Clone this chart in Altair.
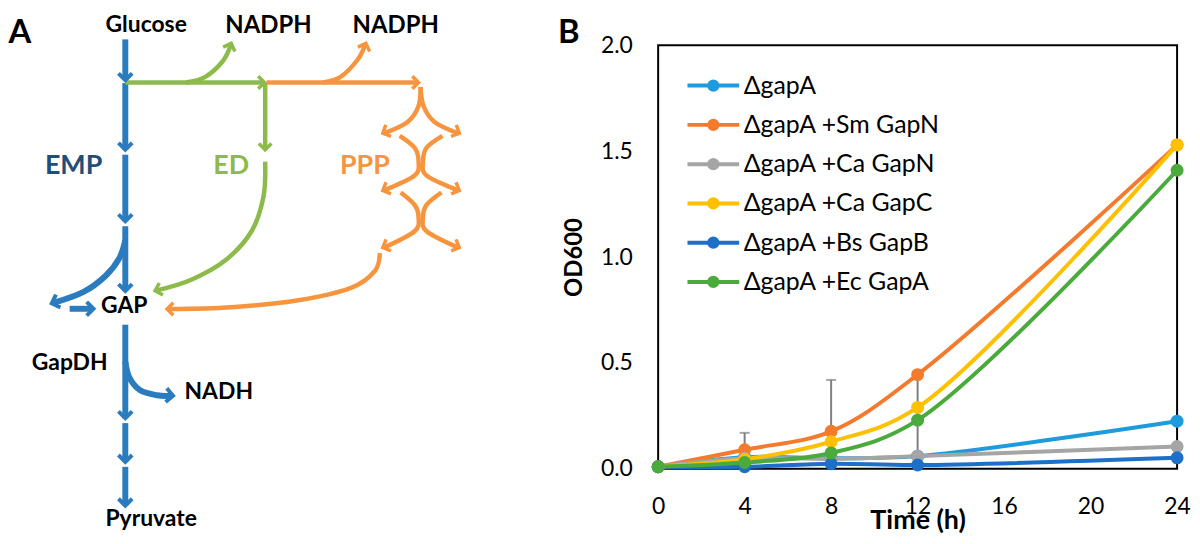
import altair as alt
import pandas as pd

FONT = "Lato"

# ---------------- Panel B: growth curves ----------------
time_h = [0, 4, 8, 12, 24]
strain_names = ["ΔgapA", "ΔgapA +Sm GapN", "ΔgapA +Ca GapN",
                "ΔgapA +Ca GapC", "ΔgapA +Bs GapB", "ΔgapA +Ec GapA"]
od_gapA = [0.01, 0.055, 0.05, 0.06, 0.225]
od_sm_gapN = [0.01, 0.09, 0.177, 0.445, 1.53]
od_ca_gapN = [0.01, 0.05, 0.047, 0.06, 0.105]
od_ca_gapC = [0.01, 0.045, 0.128, 0.29, 1.53]
od_bs_gapB = [0.01, 0.01, 0.024, 0.018, 0.052]
od_ec_gapA = [0.01, 0.03, 0.075, 0.23, 1.41]
strain_colors = ["#1E9BDC", "#F47A2E", "#A5A5A5", "#FFC000", "#1E6FC8", "#4AAA3C"]
err_time = [4, 8, 12]
err_low = [0.09, 0.177, 0.06]
err_high = [0.17, 0.42, 0.46]
x_ticks = [0, 4, 8, 12, 16, 20, 24]
y_ticks = [0.0, 0.5, 1.0, 1.5, 2.0]

# ---------------- Panel A: pathway diagram (figure pixel coordinates, y down) ----------------
BLUE, GREEN, ORANGE = "#2B7BBF", "#8DBB4B", "#F7953F"
emp_path_x = [[126, 126], [126, 126], [126, 126], [126, 126],
              [126, 120, 106, 84, 54], [70, 92], [126, 126],
              [126, 130, 141, 158, 172], [126, 126], [126, 126]]
emp_path_y = [[38, 79], [82, 149], [154, 221], [226, 291],
              [240, 258, 276, 292, 303], [309, 309], [325, 419],
              [362, 378, 391, 396, 396.5], [424, 463], [468, 507]]
ed_path_x = [[126, 264], [187, 206, 224, 232], [266.7, 266.7],
             [266.7, 265, 253, 227, 193, 158]]
ed_path_y = [[81.4, 81.4], [81.4, 76, 60, 44], [81.4, 149],
             [161, 196, 231, 260, 279.5, 290.5]]
ppp_path_x = [[268, 419], [325, 343, 360, 367],
              [423, 421, 410, 386], [423, 426, 437, 461],
              [402, 417, 421, 417, 386], [445, 429, 425.5, 429, 461],
              [403, 417, 421, 417, 386], [444, 429, 425.5, 429, 461],
              [382, 377, 353, 300, 233, 170]]
ppp_path_y = [[81.4, 81.4], [81.4, 75.4, 58, 44],
              [86, 105, 121, 132.5], [86, 105, 121, 132.5],
              [135, 147, 161, 175, 190], [135, 147, 161, 175, 190],
              [192, 204.5, 217, 231, 247.5], [192, 204.5, 217, 231, 247.5],
              [253, 271, 288, 300.5, 307.4, 309.2]]

emp_arrow_x = [126, 126, 126, 126, 52, 94, 126, 174, 126, 126]
emp_arrow_y = [79, 149, 221, 291, 303.5, 309, 419, 396.5, 463, 507]
emp_arrow_angle = [90, 90, 90, 90, 161, 0, 90, 5, 90, 90]
ed_arrow_x = [266, 232.5, 266.7, 156]
ed_arrow_y = [81.4, 42, 149, 291]
ed_arrow_angle = [0, 290, 90, 163]
ppp_arrow_x = [421, 368, 385, 462, 385, 462, 385, 462, 168]
ppp_arrow_y = [81.4, 42, 132.5, 132.5, 190, 190, 247.5, 247.5, 309.2]
ppp_arrow_angle = [0, 290, 155, 25, 157, 23, 157, 23, 180]

# top labels: y is the text baseline
top_labels = ["A", "B", "Glucose", "NADPH", "NADPH"]
top_label_x = [20, 572, 147, 270, 398]
top_label_y = [42, 42, 31, 32, 32]
top_label_size = [33, 33, 23, 24, 24]

mid_labels = ["EMP", "ED", "PPP", "GAP", "GapDH", "NADH", "Pyruvate"]
mid_label_x = [74, 232.5, 367, 125, 70, 220, 152]
mid_label_y = [165, 165, 165, 306.7, 364, 393, 520]
mid_label_size = [27, 27, 27, 23, 23, 23, 23]
mid_label_color = ["#1F4E79", "#8DBB4B", "#F7953F", "#000000", "#000000", "#000000", "#000000"]

# ---------------- build tables ----------------
series = [od_gapA, od_sm_gapN, od_ca_gapN, od_ca_gapC, od_bs_gapB, od_ec_gapA]
df_b = pd.DataFrame([
    {"strain": s, "time": t, "od": v}
    for s, vals in zip(strain_names, series) for t, v in zip(time_h, vals)
])
df_err = pd.DataFrame({"time": err_time, "od": err_low, "od_high": err_high})

path_rows = []
pid = 0
for xs_all, ys_all, col, w in [(emp_path_x, emp_path_y, BLUE, 6),
                               (ed_path_x, ed_path_y, GREEN, 4.5),
                               (ppp_path_x, ppp_path_y, ORANGE, 4.5)]:
    for xs, ys in zip(xs_all, ys_all):
        for k, (xv, yv) in enumerate(zip(xs, ys)):
            path_rows.append({"pid": pid, "k": k, "x": xv, "y": yv, "col": col, "w": w})
        pid += 1
df_paths = pd.DataFrame(path_rows)

arrow_rows = []
for xs, ys, angs, col, sz, sw in [(emp_arrow_x, emp_arrow_y, emp_arrow_angle, BLUE, 190, 4),
                                  (ed_arrow_x, ed_arrow_y, ed_arrow_angle, GREEN, 160, 3.5),
                                  (ppp_arrow_x, ppp_arrow_y, ppp_arrow_angle, ORANGE, 160, 3.5)]:
    for xv, yv, a in zip(xs, ys, angs):
        arrow_rows.append({"x": xv, "y": yv, "ang": a, "col": col, "sz": sz, "sw": sw})
df_arrows = pd.DataFrame(arrow_rows)

df_top = pd.DataFrame({"t": top_labels, "x": top_label_x, "y": top_label_y,
                       "fs": top_label_size, "col": ["#000000"] * len(top_labels)})
df_mid = pd.DataFrame({"t": mid_labels, "x": mid_label_x, "y": mid_label_y,
                       "fs": mid_label_size, "col": mid_label_color})

# ---------------- Panel A chart ----------------
xa = alt.X("x:Q", scale=alt.Scale(domain=[8, 568], nice=False, zero=False), axis=None)
ya = alt.Y("y:Q", scale=alt.Scale(domain=[8, 506], nice=False, zero=False, reverse=True), axis=None)

a_lines = alt.Chart(df_paths).mark_line(interpolate="cardinal", strokeCap="butt").encode(
    x=xa, y=ya, detail="pid:N", order="k:Q",
    color=alt.Color("col:N", scale=None),
    strokeWidth=alt.StrokeWidth("w:Q", scale=None),
)
a_arrows = alt.Chart(df_arrows).mark_point(
    shape="M-1,-1L0,0L-1,1", filled=False, opacity=1, strokeJoin="miter"
).encode(
    x=xa, y=ya,
    angle=alt.Angle("ang:Q", scale=None),
    color=alt.Color("col:N", scale=None),
    size=alt.Size("sz:Q", scale=None),
    strokeWidth=alt.StrokeWidth("sw:Q", scale=None),
)
a_top = alt.Chart(df_top).mark_text(baseline="alphabetic", align="center", fontWeight="bold", font=FONT).encode(
    x=xa, y=ya, text="t:N", color=alt.Color("col:N", scale=None), size=alt.Size("fs:Q", scale=None)
)
a_mid = alt.Chart(df_mid).mark_text(baseline="middle", align="center", fontWeight="bold", font=FONT).encode(
    x=xa, y=ya, text="t:N", color=alt.Color("col:N", scale=None), size=alt.Size("fs:Q", scale=None)
)
panel_a = alt.layer(a_lines, a_arrows, a_top, a_mid).properties(
    width=560, height=498, view=alt.ViewBackground(stroke="transparent", strokeWidth=0)
)

# ---------------- Panel B chart ----------------
x_axis = alt.Axis(values=x_ticks, title="Time (h)", titleFont=FONT, titleFontSize=27,
                  titleFontWeight="bold", titleColor="#000000", titleX=261, titleY=52,
                  titleBaseline="middle", labelFont=FONT, labelFontSize=23, labelColor="#000000",
                  labelPadding=27, ticks=False, domain=False, grid=False, labelFlush=False)
y_axis = alt.Axis(values=y_ticks, format=".1f", title="OD600", titleFont=FONT, titleFontSize=24,
                  titleFontWeight="bold", titleColor="#000000", titleX=-84, titleY=213,
                  titleAngle=270, titleBaseline="middle", titleAlign="center",
                  labelFont=FONT, labelFontSize=23, labelColor="#000000",
                  labelPadding=26, ticks=False, domain=False, grid=False, labelFlush=False)
x_scale = alt.Scale(domain=[0, 24], nice=False, zero=False)
y_scale = alt.Scale(domain=[0, 2], nice=False)

# the legend is lifted to the top level of the concatenation: offsets from the chart origin
legend_args = dict(
    title=None, orient="none", legendX=697, legendY=64, direction="vertical",
    symbolType="M-3.25,0L3.25,0M-0.52,0A0.52,0.52,0,1,1,0.52,0A0.52,0.52,0,1,1,-0.52,0Z",
    symbolSize=256, symbolStrokeWidth=4, labelOffset=18, rowPadding=13.5,
    labelFont=FONT, labelFontSize=25, labelColor="#000000", labelLimit=500, padding=0,
    symbolOpacity=1,
)

err_rule = alt.Chart(df_err).mark_rule(color="#7F7F7F", strokeWidth=2).encode(
    x=alt.X("time:Q", scale=x_scale, axis=x_axis),
    y=alt.Y("od:Q", scale=y_scale, axis=y_axis),
    y2="od_high:Q",
)
err_cap = alt.Chart(df_err).mark_tick(color="#7F7F7F", thickness=2, size=10, orient="horizontal").encode(
    x=alt.X("time:Q", scale=x_scale, axis=x_axis),
    y=alt.Y("od_high:Q", scale=y_scale, axis=y_axis),
)
b_lines = alt.Chart(df_b).mark_line(interpolate="catmull-rom", strokeWidth=4).encode(
    x=alt.X("time:Q", scale=x_scale, axis=x_axis),
    y=alt.Y("od:Q", scale=y_scale, axis=y_axis),
    color=alt.Color("strain:N", scale=alt.Scale(domain=strain_names, range=strain_colors),
                    sort=strain_names, legend=alt.Legend(**legend_args)),
)
b_points = alt.Chart(df_b).mark_circle(size=170, opacity=1).encode(
    x=alt.X("time:Q", scale=x_scale, axis=x_axis),
    y=alt.Y("od:Q", scale=y_scale, axis=y_axis),
    fill=alt.Fill("strain:N", scale=alt.Scale(domain=strain_names, range=strain_colors),
                  sort=strain_names, legend=alt.Legend(**legend_args)),
)
panel_b = alt.layer(err_rule, err_cap, b_lines, b_points).properties(
    width=522, height=426,
    view=alt.ViewBackground(stroke="#000000", strokeWidth=2),
)

chart = alt.hconcat(panel_a, panel_b, spacing=94, bounds="flush", center=True).properties(
    padding=0
).configure(font=FONT)

chart.save("out.html", embed_options={"renderer": "svg", "actions": False})
